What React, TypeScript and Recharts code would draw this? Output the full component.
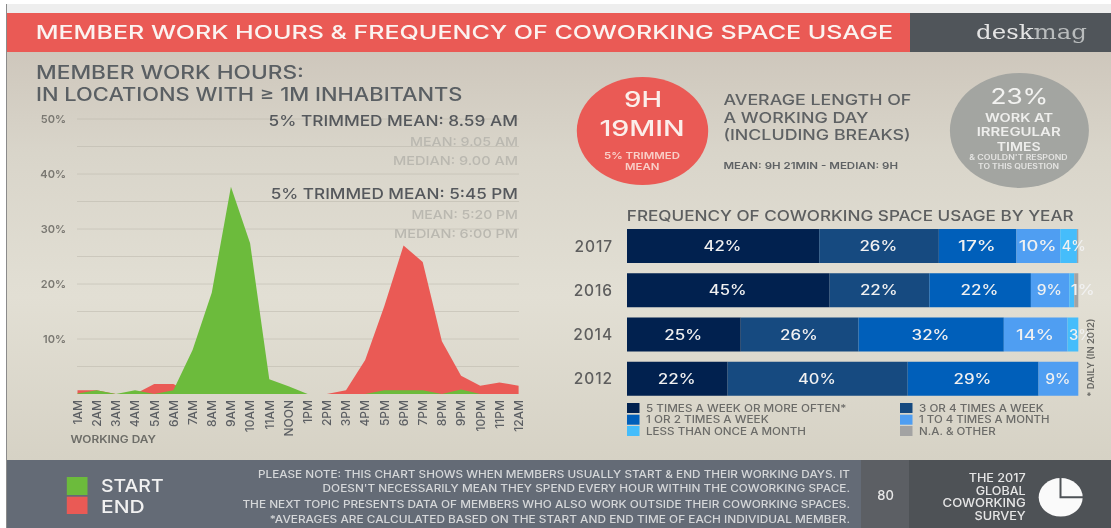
import React from 'react';
import { AreaChart, Area, BarChart, Bar, XAxis, YAxis, CartesianGrid, LabelList } from 'recharts';

const FONT = 'Inter, "Open Sans", sans-serif';

const hours = ['1AM', '2AM', '3AM', '4AM', '5AM', '6AM', '7AM', '8AM', '9AM', '10AM', '11AM', 'NOON', '1PM', '2PM', '3PM', '4PM', '5PM', '6PM', '7PM', '8PM', '9PM', '10PM', '11PM', '12AM'];
const startShare = [0.1, 0.7, 0, 0.7, 0, 0.7, 8, 18.4, 37.7, 27.4, 2.7, 1.4, 0, 0, 0, 0, 0.7, 0.7, 0.7, 0, 0.8, 0, 0, 0];
const endShare = [0.7, 0.7, 0, 0, 1.8, 1.8, 0, 0, 0, 0, 0, 0, 0, 0, 0.7, 6.2, 16, 27, 24, 9.6, 3.3, 1.5, 2.1, 1.5];
const yTicks = [10, 20, 30, 40, 50];
const gridValues = [5, 10, 15, 20, 25, 30, 35, 40, 45, 50];

const years = ['2017', '2016', '2014', '2012'];
const fiveTimes = [42.6, 44.9, 25.2, 22.3];
const threeFour = [26.5, 22.1, 26.1, 39.9];
const oneTwo = [17.2, 22.5, 32.2, 29];
const monthly = [9.7, 8.5, 14.1, 8.8];
const lessOften = [3.7, 1.1, 2.4, 0];
const other = [0.3, 0.9, 0, 0];
const usageSeries = [fiveTimes, threeFour, oneTwo, monthly, lessOften, other];
const usageLabels = [
  ['42%', '45%', '25%', '22%'],
  ['26%', '22%', '26%', '40%'],
  ['17%', '22%', '32%', '29%'],
  ['10%', '9%', '14%', '9%'],
  ['4%', '1%', '3%', ''],
  ['', '', '', ''],
];
const usageNames = ['5 TIMES A WEEK OR MORE OFTEN*', '3 OR 4 TIMES A WEEK', '1 OR 2 TIMES A WEEK', '1 TO 4 TIMES A MONTH', 'LESS THAN ONCE A MONTH', 'N.A. & OTHER'];
const usageColors = ['#01214f', '#164a80', '#005fba', '#4f9ef2', '#45bdfb', '#a3a3a3'];

const hourData = hours.map((hour, i) => ({ hour, start: startShare[i], end: endShare[i] }));
const usageData = years.map((year, i) => {
  const row: Record<string, string | number> = { year };
  usageSeries.forEach((s, k) => {
    row[`s${k}`] = s[i];
    row[`l${k}`] = usageLabels[k][i];
  });
  return row;
});

const HourTick = ({ x, y, payload }: any) => (
  <text transform={`rotate(-90 ${x} ${y})`} x={x} y={y + 4.3} textAnchor="end" fontSize={12} fontWeight={500} fill="#5c5f63" fontFamily={FONT}>
    {payload.value}
  </text>
);

const BarLabel = ({ x, y, width, height, value }: any) => {
  if (!value) return null;
  const narrow = width < 20;
  const len = value.length * (narrow ? 12 : 12.6);
  const tx = narrow ? x + 1.5 : x + width / 2 - len / 2 - 0.7;
  return (
    <text x={tx} y={y + height / 2 + 5} fontSize={14} fontWeight={500} fill="#f1f1f1" fontFamily={FONT} textLength={len} lengthAdjust="spacingAndGlyphs">
      {value}
    </text>
  );
};

const T = ({ x1, x2, y, size, fill, weight = 500, children }: any) => (
  <text x={x1} y={y} fontSize={size} fill={fill} fontWeight={weight} textLength={x2 - x1} lengthAdjust="spacingAndGlyphs">
    {children}
  </text>
);

const App = () => {
  const legendPos = [
    { box: 627, text: 646, end: 846.4, y: 408 },
    { box: 900, text: 919, end: 1043.8, y: 408 },
    { box: 627, text: 646, end: 768.7, y: 419.7 },
    { box: 900, text: 919, end: 1049.5, y: 419.7 },
    { box: 627, text: 646, end: 806, y: 431 },
    { box: 900, text: 919, end: 995.7, y: 431 },
  ];
  return (
    <div style={{ position: 'absolute', left: 0, top: 0, width: 1111, height: 528, background: '#fff', overflow: 'hidden', fontFamily: FONT, filter: 'blur(0.4px)' }}>
      <div style={{ position: 'absolute', left: 6, top: 4, width: 1105, height: 9, background: '#eeeeee' }} />
      <div style={{ position: 'absolute', left: 6, top: 51, width: 1105, height: 409, background: 'linear-gradient(#cec7bc 0%, #d9d5ca 25%, #e2dfd4 60%, #d6d2c5 100%)' }} />
      <div style={{ position: 'absolute', left: 6, top: 13, width: 904, height: 38.5, background: '#ea5a55' }} />
      <div style={{ position: 'absolute', left: 910, top: 13, width: 201, height: 38.5, background: '#50555a' }} />
      <div style={{ position: 'absolute', left: 6, top: 460, width: 855, height: 68, background: '#646b76' }} />
      <div style={{ position: 'absolute', left: 861, top: 460, width: 48, height: 68, background: '#5c5f64' }} />
      <div style={{ position: 'absolute', left: 909, top: 460, width: 202, height: 68, background: '#4e5256' }} />
      <div style={{ position: 'absolute', left: 6, top: 4, width: 1, height: 524, background: '#8b8b8b' }} />

      <div style={{ position: 'absolute', left: 0, top: 100 }}>
        <AreaChart width={540} height={350} data={hourData} margin={{ top: 19, right: 21.4, bottom: 0, left: 0 }}>
          <CartesianGrid vertical={false} horizontalValues={gridValues} stroke="#b8b4a8" strokeDasharray="1 1" />
          <XAxis dataKey="hour" interval={0} height={56} axisLine={false} tickLine={false} tickSize={0} tick={<HourTick />} tickMargin={6} />
          <YAxis
            width={77.5}
            domain={[0, 50]}
            ticks={yTicks}
            interval={0}
            axisLine={false}
            tickLine={false}
            tickSize={0}
            tickMargin={11.5}
            tickFormatter={(v) => `${v}%`}
            tick={{ fontSize: 11, fontWeight: 600, fill: '#7a7872', fontFamily: FONT }}
          />
          <Area type="linear" dataKey="end" stroke="none" fill="#ea5a55" fillOpacity={1} isAnimationActive={false} />
          <Area type="linear" dataKey="start" stroke="none" fill="#6cbb3c" fillOpacity={1} isAnimationActive={false} />
        </AreaChart>
      </div>

      <div style={{ position: 'absolute', left: 560, top: 224 }}>
        <BarChart width={551} height={177} data={usageData} layout="vertical" barSize={34} margin={{ top: 0, right: 32.7, bottom: 0, left: 0 }}>
          <XAxis type="number" domain={[0, 100]} hide />
          <YAxis
            type="category"
            dataKey="year"
            width={67}
            axisLine={false}
            tickLine={false}
            tickSize={0}
            tickMargin={14}
            tick={{ fontSize: 15.5, fontWeight: 500, fill: '#5e5e5e', fontFamily: FONT, letterSpacing: 0.9 }}
          />
          {usageSeries.map((_, k) => (
            <Bar key={k} dataKey={`s${k}`} stackId="usage" fill={usageColors[k]} isAnimationActive={false}>
              <LabelList dataKey={`l${k}`} content={<BarLabel />} />
            </Bar>
          ))}
        </BarChart>
      </div>

      <svg width={1111} height={528} style={{ position: 'absolute', left: 0, top: 0, pointerEvents: 'none', fontFamily: FONT }}>
        <T x1={35.7} x2={893} y={38.5} size={19} fill="#fbf3f0">MEMBER WORK HOURS &amp; FREQUENCY OF COWORKING SPACE USAGE</T>
        <text x={976} y={39} fontSize={21} fontFamily='"DejaVu Serif", serif' textLength={111} lengthAdjust="spacingAndGlyphs" fill="#e4e4e4">
          desk<tspan fill="#b9bcbd">mag</tspan>
        </text>

        <T x1={36} x2={304} y={79} size={18} fill="#5a5f63">MEMBER WORK HOURS:</T>
        <T x1={36} x2={462.5} y={100.5} size={18} fill="#5a5f63">IN LOCATIONS WITH ≥ 1M INHABITANTS</T>

        <T x1={268.6} x2={518} y={126} size={15} fill="#55585c" weight={500}>5% TRIMMED MEAN: 8.59 AM</T>
        <T x1={410} x2={518} y={146} size={12} fill="#bab8b0" weight={500}>MEAN: 9.05 AM</T>
        <T x1={393} x2={518} y={164.7} size={12} fill="#bab8b0" weight={500}>MEDIAN: 9.00 AM</T>
        <T x1={270.7} x2={518} y={199.3} size={15} fill="#55585c" weight={500}>5% TRIMMED MEAN: 5:45 PM</T>
        <T x1={411.4} x2={518} y={219.3} size={12} fill="#bab8b0" weight={500}>MEAN: 5:20 PM</T>
        <T x1={394} x2={518} y={238} size={12} fill="#bab8b0" weight={500}>MEDIAN: 6:00 PM</T>
        <T x1={70.4} x2={156} y={443} size={10} fill="#6d6d68" weight={600}>WORKING DAY</T>

        <ellipse cx={642.5} cy={131} rx={65.7} ry={54} fill="#ea5a55" />
        <T x1={624} x2={662} y={107} size={21} fill="#fbeeea">9H</T>
        <T x1={599.4} x2={684.7} y={135.7} size={21} fill="#fbeeea">19MIN</T>
        <T x1={604} x2={680} y={159.3} size={9} fill="#f8cfc8" weight={600}>5% TRIMMED</T>
        <T x1={625} x2={659.4} y={170.3} size={9} fill="#f8cfc8" weight={600}>MEAN</T>

        <T x1={723.4} x2={911.4} y={105} size={14.5} fill="#5f6264">AVERAGE LENGTH OF</T>
        <T x1={723.4} x2={868.5} y={122.7} size={14.5} fill="#5f6264">A WORKING DAY</T>
        <T x1={723.4} x2={910.7} y={140} size={14.5} fill="#5f6264">(INCLUDING BREAKS)</T>
        <T x1={723.4} x2={898} y={169.3} size={9.5} fill="#5f6264" weight={600}>MEAN: 9H 21MIN - MEDIAN: 9H</T>

        <ellipse cx={1019.4} cy={130.5} rx={69.5} ry={57.5} fill="#a3a5a1" />
        <T x1={990.4} x2={1048.4} y={104} size={22} fill="#f2f2f0" weight={400}>23%</T>
        <T x1={985} x2={1053} y={121.7} size={11.5} fill="#eeeeec" weight={600}>WORK AT</T>
        <T x1={976.7} x2={1060.7} y={136.3} size={11.5} fill="#eeeeec" weight={600}>IRREGULAR</T>
        <T x1={996.8} x2={1040.7} y={150.7} size={11.5} fill="#eeeeec" weight={600}>TIMES</T>
        <T x1={969.3} x2={1067.7} y={160.3} size={7} fill="#e4e4e2" weight={600}>&amp; COULDN'T RESPOND</T>
        <T x1={978} x2={1059} y={169.3} size={7} fill="#e4e4e2" weight={600}>TO THIS QUESTION</T>

        <T x1={626.8} x2={1073.7} y={220.7} size={14.5} fill="#5d5f60" weight={500}>FREQUENCY OF COWORKING SPACE USAGE BY YEAR</T>
        <text transform="rotate(-90 1094 396.7)" x={1094} y={396.7} fontSize={9.5} fontWeight={600} fill="#6a6a66" textLength={78} lengthAdjust="spacingAndGlyphs">* DAILY (IN 2012)</text>

        {usageNames.map((name, k) => {
          const p = legendPos[k];
          return (
            <g key={name}>
              <rect x={p.box} y={p.y - 5} width={12.5} height={10} fill={usageColors[k]} />
              <T x1={p.text} x2={p.end} y={p.y + 3.6} size={10} fill="#6b6b68" weight={500}>{name}</T>
            </g>
          );
        })}

        <rect x={66.8} y={477} width={20.7} height={18} fill="#6cbb3c" />
        <rect x={66.8} y={496.7} width={20.7} height={17.3} fill="#ea5a55" />
        <T x1={101} x2={163.6} y={492.3} size={17.5} fill="#f1f1f1">START</T>
        <T x1={101} x2={144.6} y={513.3} size={17.5} fill="#f1f1f1">END</T>

        <T x1={258} x2={850} y={478} size={10} fill="#d5d7d9">PLEASE NOTE: THIS CHART SHOWS WHEN MEMBERS USUALLY START &amp; END THEIR WORKING DAYS. IT</T>
        <T x1={322.6} x2={850} y={492} size={10} fill="#d5d7d9">DOESN'T NECESSARILY MEAN THEY SPEND EVERY HOUR WITHIN THE COWORKING SPACE.</T>
        <T x1={242.4} x2={850} y={507.5} size={10} fill="#d5d7d9">THE NEXT TOPIC PRESENTS DATA OF MEMBERS WHO ALSO WORK OUTSIDE THEIR COWORKING SPACES.</T>
        <T x1={269.7} x2={850} y={522.5} size={10} fill="#d5d7d9">*AVERAGES ARE CALCULATED BASED ON THE START AND END TIME OF EACH INDIVIDUAL MEMBER.</T>

        <text x={885.6} y={500} textAnchor="middle" fontSize={13} fontWeight={500} fill="#e8e8e8">80</text>
        <T x1={968.7} x2={1025.7} y={482} size={11.5} fill="#e6e6e6">THE 2017</T>
        <T x1={975.7} x2={1025.7} y={494.5} size={11.5} fill="#e6e6e6">GLOBAL</T>
        <T x1={942.6} x2={1025.7} y={507} size={11.5} fill="#e6e6e6">COWORKING</T>
        <T x1={974.5} x2={1025.7} y={520} size={11.5} fill="#e6e6e6">SURVEY</T>
        <ellipse cx={1060.7} cy={497.3} rx={22} ry={19.3} fill="#fafafa" />
        <path d="M1060.5 477 V497.3 H1084" fill="none" stroke="#4e5256" strokeWidth={2} />
      </svg>
    </div>
  );
};

export default App;
